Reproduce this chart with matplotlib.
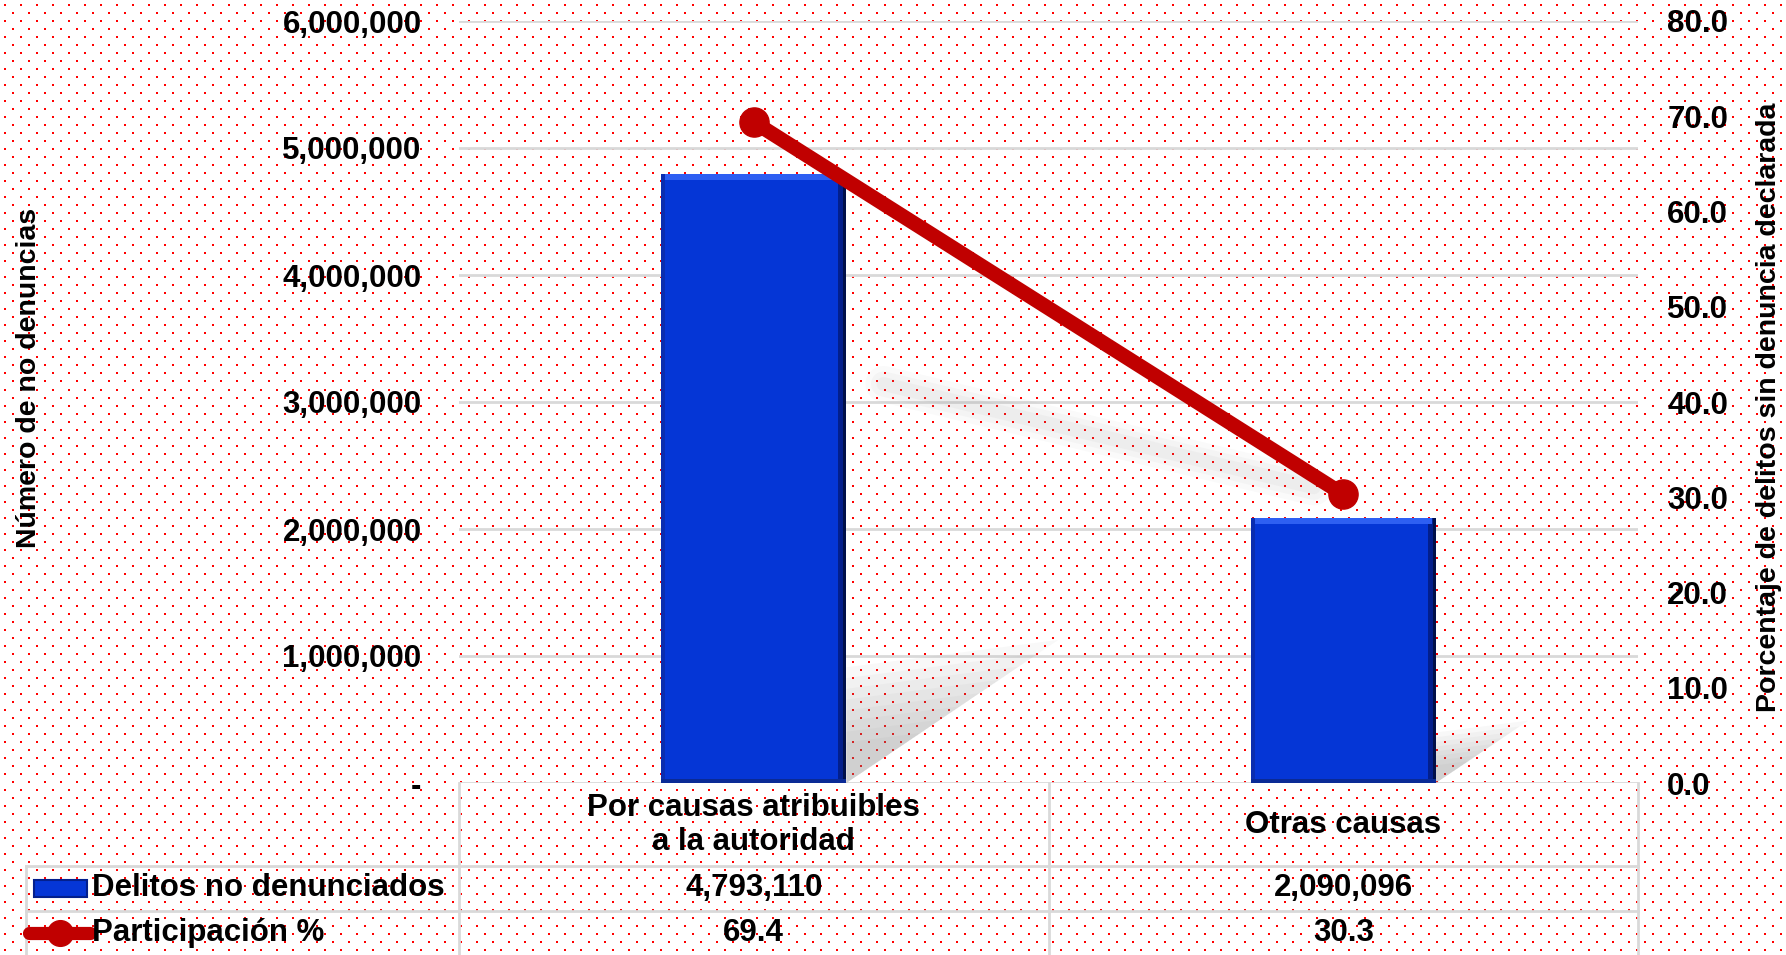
import numpy as np
import matplotlib.pyplot as plt
from matplotlib.patches import Polygon, Rectangle
from matplotlib.lines import Line2D
from matplotlib.ticker import FuncFormatter, MultipleLocator
from matplotlib.transforms import blended_transform_factory


### Data ###
categorias = ["Por causas atribuibles\na la autoridad", "Otras causas"]
delitos = [4793110, 2090096]
participacion = [69.4, 30.3]
nombre_barras = "Delitos no denunciados"
nombre_linea = "Participación %"
etiqueta_izq = "Número de no denuncias"
etiqueta_der = "Porcentaje de delitos sin denuncia declarada"

AZUL = '#0536D6'
ROJO = '#C00000'
GRIS = '#D9D9D9'

plt.rcParams['font.family'] = ['Liberation Sans', 'DejaVu Sans']
plt.rcParams['font.weight'] = 'bold'

W, H = 1786, 955
fig = plt.figure(figsize=(W / 100, H / 100), dpi=100)
fig.patch.set_facecolor('white')

## dotted background ##
bg = fig.add_axes([0, 0, 1, 1], zorder=-10)
bg.set_xlim(0, W)
bg.set_ylim(H, 0)
bg.axis('off')
gx, gy = np.meshgrid(np.arange(4.5, W, 16), np.arange(5.5, H, 16))
bg.scatter(np.r_[gx.ravel(), gx.ravel() + 8], np.r_[gy.ravel(), gy.ravel() + 8],
           s=2.1, marker='s', c='#FF0000', linewidths=0)

## axes (pixel layout) ##
L, R, T, B = 459, 1638, 21, 783
ax = fig.add_axes([L / W, 1 - B / H, (R - L) / W, (B - T) / H])
ax.patch.set_visible(False)
ax2 = ax.twinx()

x = np.arange(len(categorias))
bw = 0.314
ax.set_xlim(-0.5, 1.5)
ax.set_ylim(0, 6e6)
ax2.set_ylim(0, 80)
pxx = 2.0 / (R - L)          # data units per pixel, x
pxy = 6e6 / (B - T)          # data units per pixel, y (left axis)

## shadows of the bars ##
h = np.array(delitos, dtype=float)
for i in range(len(x)):
    xr = x[i] + bw / 2
    pts = np.array([[xr, 0], [xr, 0.19 * h[i]], [xr + 0.075 * h[i] / 1e6, 0.235 * h[i]]])
    base = np.array([xr, 0])
    for s in np.linspace(1.0, 0.35, 8):
        ax.add_patch(Polygon(base + s * (pts - base), closed=True, facecolor='#7F7F7F',
                             edgecolor='none', alpha=0.05, zorder=2))

## bars with bevel ##
ax.bar(x, delitos, width=bw, color=AZUL, zorder=3)
ax.bar(x - bw / 2 + 2 * pxx, delitos, width=4 * pxx, color='#0A2DB0', zorder=3.1)
ax.bar(x + bw / 2 - 4 * pxx, delitos, width=8 * pxx, color='#031F8C', zorder=3.1)
ax.bar(x + bw / 2 - 1.5 * pxx, delitos, width=3 * pxx, color='#00104A', zorder=3.2)
ax.bar(x, 6 * pxy, bottom=h - 6 * pxy, width=bw - 8 * pxx, color='#2E5FF2', zorder=3.3)
ax.bar(x, 4 * pxy, bottom=0, width=bw, color='#0A2A95', zorder=3.3)

## shadow of the line ##
xs = np.linspace(0.22, 0.95, 40)
yl = np.interp(xs, x, participacion)
ysh = participacion[1] + 0.38 * (yl - participacion[1])
for lw, al in [(26, 0.04), (18, 0.05), (10, 0.06)]:
    ax2.plot(xs, ysh, color='#8C8C8C', lw=lw, alpha=al, solid_capstyle='round', zorder=1)

## line ##
ax2.plot(x, participacion, color=ROJO, lw=10.5, marker='o', ms=21,
         solid_capstyle='round', zorder=5)

## ticks, grid ##
ax.yaxis.set_major_locator(MultipleLocator(1e6))
ax.yaxis.set_major_formatter(FuncFormatter(lambda v, p: '-' if v == 0 else f'{v:,.0f}'))
ax2.yaxis.set_major_locator(MultipleLocator(10))
ax2.yaxis.set_major_formatter(FuncFormatter(lambda v, p: f'{v:.1f}'))
for a in (ax, ax2):
    for sp in a.spines.values():
        sp.set_visible(False)
    a.tick_params(length=0, labelsize=22.5)
ax.tick_params(axis='y', pad=27)
ax2.tick_params(axis='y', pad=21)
ax.set_xticks([])
ax.grid(axis='y', color=GRIS, lw=2)
ax.set_axisbelow(True)

ax.set_ylabel(etiqueta_izq, fontsize=20.5, fontweight='bold')
ax.yaxis.set_label_coords((42 - L) / (R - L), (B - 378) / (B - T))
ax2.set_ylabel(etiqueta_der, fontsize=20.5, fontweight='bold')
ax2.yaxis.set_label_coords((1756 - L) / (R - L), (B - 407) / (B - T))

## data table under the chart ##
tr = blended_transform_factory(ax.transData, ax.transAxes)


def fx(p):
    return (p - L) / (R - L) * 2 - 0.5


def fy(p):
    return (B - p) / (B - T)


tbl = dict(color=GRIS, lw=2, transform=tr, clip_on=False)
for yy in (866, 911):
    ax.plot([fx(26), 1.5], [fy(yy)] * 2, **tbl)
ax.plot([fx(26)] * 2, [fy(866), fy(960)], **tbl)
for xx in np.r_[x - 0.5, x[-1] + 0.5]:
    ax.plot([xx, xx], [0, fy(960)], **tbl)

for i, cat in enumerate(categorias):
    ax.text(x[i], fy(825), cat, transform=tr, ha='center', va='center',
            fontsize=22.5, linespacing=1.2)
    ax.text(x[i], fy(888), f'{delitos[i]:,}', transform=tr, ha='center', va='center',
            fontsize=22.5)
    ax.text(x[i], fy(933), f'{participacion[i]:.1f}', transform=tr, ha='center',
            va='center', fontsize=22.5)

ax.text(fx(92), fy(888), nombre_barras, transform=tr, ha='left', va='center', fontsize=22.5)
ax.text(fx(92), fy(933), nombre_linea, transform=tr, ha='left', va='center', fontsize=22.5)

ax.add_patch(Rectangle((fx(34), fy(897)), fx(87) - fx(34), fy(880) - fy(897), transform=tr,
                       facecolor=AZUL, edgecolor='#031F8C', lw=1.5, clip_on=False))
ax.add_line(Line2D([fx(29), fx(90)], [fy(933)] * 2, transform=tr, color=ROJO, lw=9.5,
                   solid_capstyle='round', clip_on=False))
ax.add_line(Line2D([fx(59.5)], [fy(933)], transform=tr, color=ROJO, marker='o', ms=18.5,
                   lw=0, clip_on=False))

fig.savefig('out.png', dpi=100)
